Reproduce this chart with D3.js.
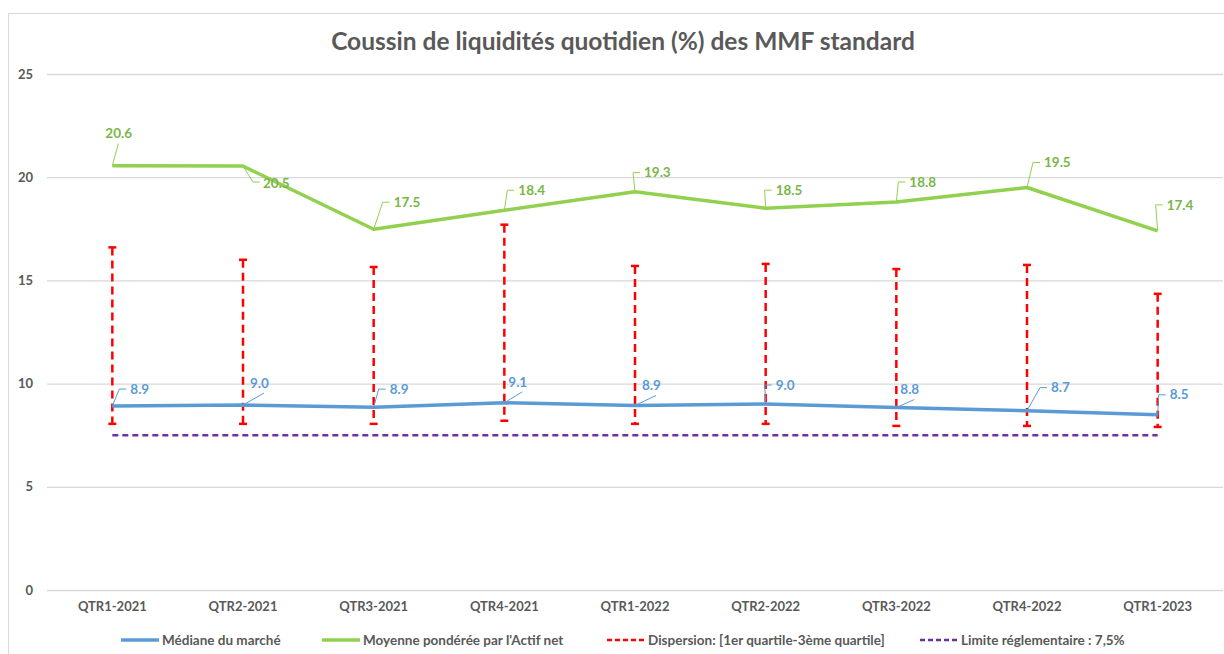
<!DOCTYPE html>
<html>
<head>
<meta charset="utf-8">
<script src="https://cdn.jsdelivr.net/npm/d3@7"></script>
<style>
  body { margin: 0; background: #fff; }
  svg { display: block; font-family: Lato, "Open Sans", sans-serif; }
</style>
</head>
<body>
<div id="chart-area"></div>
<script>
//======================== data ========================
var quarters = ["QTR1-2021", "QTR2-2021", "QTR3-2021", "QTR4-2021", "QTR1-2022",
                "QTR2-2022", "QTR3-2022", "QTR4-2022", "QTR1-2023"];
var mediane = [8.91, 8.96, 8.86, 9.07, 8.94, 9.01, 8.84, 8.69, 8.49];
var moyenne = [20.56, 20.54, 17.48, 18.4, 19.3, 18.5, 18.8, 19.5, 17.4];
var q1 = [8.05, 8.05, 8.05, 8.2, 8.05, 8.05, 7.95, 7.95, 7.9];   // 1er quartile
var q3 = [16.6, 16.0, 15.65, 17.7, 15.7, 15.8, 15.55, 15.75, 14.35]; // 3eme quartile
var limite = 7.5;
var yTicks = [0, 5, 10, 15, 20, 25];

var legendLabels = ["Médiane du marché", "Moyenne pondérée par l'Actif net",
                    "Dispersion: [1er quartile-3ème quartile]", "Limite réglementaire : 7,5%"];

//======================== layout ========================
var W = 1224, H = 654;
var plot = { left: 47, right: 1223, top: 74, bottom: 590 };

var blue = "#5b9bd5", green = "#92d050", greenText = "#7ab648",
    red = "#ff0000", purple = "#7030a0", grey = "#595959";

var svg = d3.select("#chart-area").append("svg")
    .attr("width", W).attr("height", H);

// chart area border
svg.append("rect")
    .attr("x", 8.5).attr("y", 13.5)
    .attr("width", W + 20).attr("height", H + 20)
    .attr("fill", "none").attr("stroke", "#d9d9d9");

var x = d3.scaleBand().domain(quarters).range([plot.left, plot.right]).padding(0);
var y = d3.scaleLinear().domain([0, 25]).range([plot.bottom, plot.top]);
var cx = function(i) { return x(quarters[i]) + x.bandwidth() / 2; };

// title
svg.append("text")
    .attr("x", 623).attr("y", 50)
    .attr("text-anchor", "middle")
    .attr("font-size", "24.5px").attr("font-weight", "bold")
    .attr("fill", grey)
    .text("Coussin de liquidités quotidien (%) des MMF standard");

// y axis + gridlines
var yAxis = svg.append("g")
    .attr("transform", "translate(" + plot.left + ",0)")
    .call(d3.axisLeft(y).tickValues(yTicks).tickSize(-(plot.right - plot.left)).tickPadding(14));
yAxis.select(".domain").remove();
yAxis.selectAll(".tick line").attr("stroke", "#d9d9d9").attr("stroke-width", 1.3);
yAxis.selectAll(".tick text")
    .attr("fill", grey).attr("font-size", "13px").attr("font-weight", "bold")
    .attr("font-family", "Lato, sans-serif");

// x axis
var xAxis = svg.append("g")
    .attr("transform", "translate(0," + plot.bottom + ")")
    .call(d3.axisBottom(x).tickSize(0).tickPadding(12));
xAxis.select(".domain").remove();
xAxis.selectAll(".tick text")
    .attr("fill", grey).attr("font-size", "13px").attr("font-weight", "bold")
    .attr("font-family", "Lato, sans-serif");

// regulatory limit
svg.append("line")
    .attr("x1", cx(0)).attr("x2", cx(quarters.length - 1))
    .attr("y1", y(limite)).attr("y2", y(limite))
    .attr("stroke", purple).attr("stroke-width", 2.5)
    .attr("stroke-dasharray", "6,4");

// dispersion bars
var disp = svg.append("g");
quarters.forEach(function(q, i) {
    disp.append("line")
        .attr("x1", cx(i)).attr("x2", cx(i))
        .attr("y1", y(q3[i])).attr("y2", y(q1[i]))
        .attr("stroke", red).attr("stroke-width", 2.5)
        .attr("stroke-dasharray", "8,5");
    [q1[i], q3[i]].forEach(function(v) {
        disp.append("line")
            .attr("x1", cx(i) - 4).attr("x2", cx(i) + 4)
            .attr("y1", y(v)).attr("y2", y(v))
            .attr("stroke", red).attr("stroke-width", 2.5);
    });
});

// lines
var line = d3.line().x(function(d, i) { return cx(i); }).y(function(d) { return y(d); });

svg.append("path").datum(moyenne)
    .attr("fill", "none").attr("stroke", green).attr("stroke-width", 3.5)
    .attr("stroke-linejoin", "round").attr("d", line);

svg.append("path").datum(mediane)
    .attr("fill", "none").attr("stroke", blue).attr("stroke-width", 3.5)
    .attr("stroke-linejoin", "round").attr("d", line);

// data labels with leader lines, offset of label (left edge, middle) from point
var greenNudge = [[-7, -32], [20, 17], [20, -27], [14, -20], [9, -19], [10, -18], [13, -20], [17, -25], [9, -26]];
var blueNudge = [[18, -17], [7, -22], [16, -18], [4, -21], [7, -20], [10, -19], [4, -18], [24, -23], [12, -20]];

function labels(values, nudge, color, lineColor) {
    var g = svg.append("g");
    values.forEach(function(v, i) {
        var px = cx(i), py = y(v);
        var dx = nudge[i][0], dy = nudge[i][1];
        g.append("text")
            .attr("x", px + dx).attr("y", py + dy)
            .attr("dy", "0.35em")
            .attr("font-size", "13.5px").attr("font-weight", "bold")
            .attr("fill", color)
            .text(d3.format(".1f")(v));
        var pts;
        if (dy < -28) {
            // label above: leader to bottom of label
            pts = [[px, py], [px + 6, py + dy + 10]];
        } else if (dy > 0) {
            pts = [[px, py], [px + dx - 10, py + dy - 1], [px + dx - 3, py + dy - 1]];
        } else if (dx < 8) {
            pts = [[px, py], [px + dx + 14, py + dy + 10]];
        } else {
            pts = [[px, py], [px + dx - 11, py + dy], [px + dx - 4, py + dy]];
        }
        g.append("path")
            .attr("d", d3.line()(pts))
            .attr("fill", "none").attr("stroke", lineColor).attr("stroke-width", 1);
    });
}
labels(moyenne, greenNudge, greenText, green);
labels(mediane, blueNudge, blue, blue);

// legend
var legendX = [121, 322, 607, 920];
var legendStyle = [
    { color: blue, width: 3.5, dash: null },
    { color: green, width: 3.5, dash: null },
    { color: red, width: 2.5, dash: "5,3" },
    { color: purple, width: 2.5, dash: "5,3" }
];
var legend = svg.append("g").attr("transform", "translate(0,640)");
legendLabels.forEach(function(lab, i) {
    var s = legendStyle[i];
    legend.append("line")
        .attr("x1", legendX[i]).attr("x2", legendX[i] + 38)
        .attr("y1", 0).attr("y2", 0)
        .attr("stroke", s.color).attr("stroke-width", s.width)
        .attr("stroke-dasharray", s.dash);
    legend.append("text")
        .attr("x", legendX[i] + 41).attr("y", 0).attr("dy", "0.35em")
        .attr("font-size", "13.5px").attr("font-weight", "bold")
        .attr("fill", grey)
        .text(lab);
});
</script>
</body>
</html>
